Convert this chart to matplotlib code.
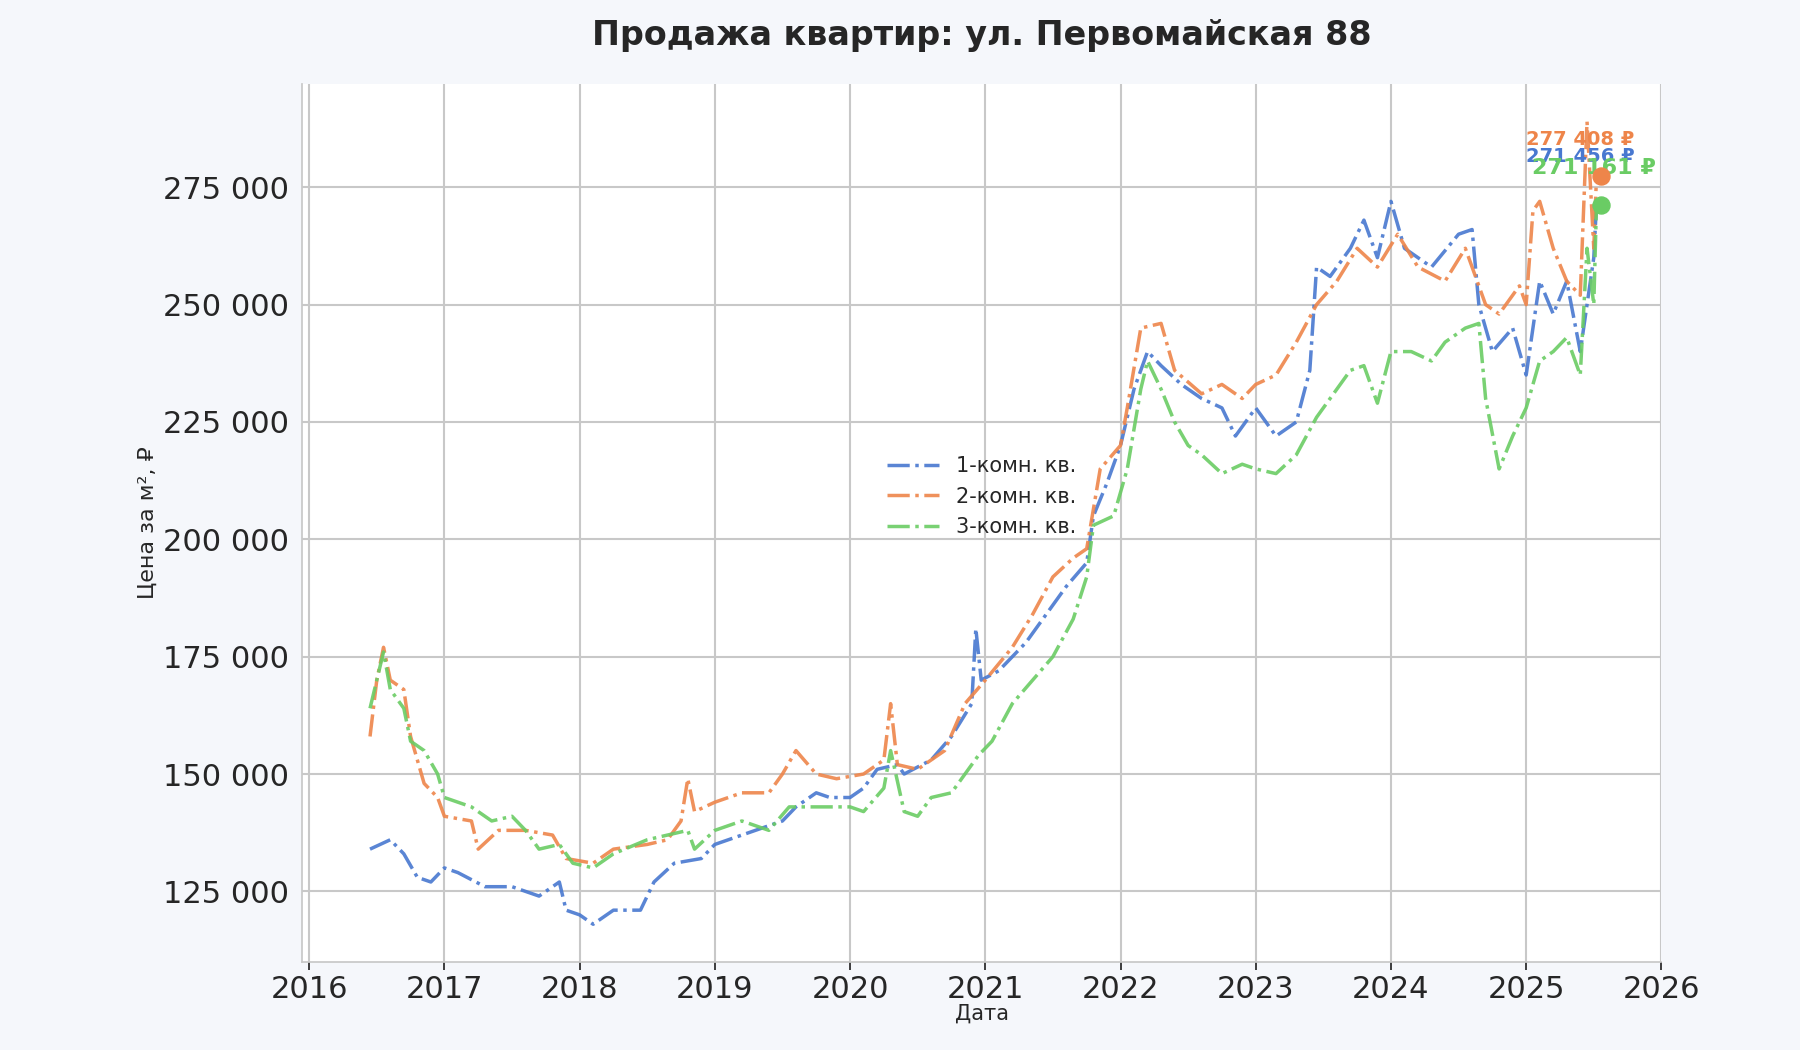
import matplotlib
matplotlib.use("Agg")
import numpy as np
import seaborn as sns
from matplotlib import pyplot as plt
from matplotlib.ticker import FuncFormatter

sns.set_theme(style="whitegrid")
plt.rcParams["font.family"] = ["DejaVu Sans"]

pal = sns.color_palette("muted")
c1, c2, c3 = pal[0], pal[1], pal[2]

# 1-комн. кв.
t1 = [2016.45, 2016.6, 2016.7, 2016.8, 2016.9, 2017.0, 2017.1, 2017.3, 2017.5, 2017.7,
      2017.85, 2017.9, 2018.0, 2018.1, 2018.25, 2018.45, 2018.55, 2018.7, 2018.9, 2019.0,
      2019.3, 2019.5, 2019.6, 2019.75, 2019.85, 2020.0, 2020.1, 2020.2, 2020.35, 2020.4,
      2020.6, 2020.75, 2020.9, 2020.93, 2020.97, 2021.1, 2021.3, 2021.45, 2021.6, 2021.75,
      2021.8, 2021.9, 2022.0, 2022.1, 2022.2, 2022.3, 2022.45, 2022.6, 2022.75, 2022.85,
      2023.0, 2023.15, 2023.3, 2023.4, 2023.45, 2023.55, 2023.7, 2023.8, 2023.9, 2024.0,
      2024.1, 2024.3, 2024.5, 2024.6, 2024.65, 2024.75, 2024.9, 2025.0, 2025.1, 2025.2,
      2025.3, 2025.4, 2025.5, 2025.52]
v1 = [134000, 136000, 133000, 128000, 127000, 130000, 129000, 126000, 126000, 124000,
      127000, 121000, 120000, 118000, 121000, 121000, 127000, 131000, 132000, 135000,
      138000, 140000, 143000, 146000, 145000, 145000, 147000, 151000, 152000, 150000,
      153000, 158000, 165000, 181000, 170000, 172000, 178000, 184000, 190000, 195000,
      205000, 212000, 220000, 232000, 240000, 237000, 233000, 230000, 228000, 222000,
      228000, 222000, 225000, 236000, 258000, 256000, 262000, 268000, 260000, 272000,
      262000, 258000, 265000, 266000, 250000, 240000, 245000, 235000, 255000, 248000,
      255000, 240000, 260000, 271456]

# 2-комн. кв.
t2 = [2016.45, 2016.5, 2016.55, 2016.6, 2016.7, 2016.75, 2016.85, 2016.95, 2017.0, 2017.2,
      2017.25, 2017.4, 2017.6, 2017.8, 2017.9, 2018.1, 2018.25, 2018.5, 2018.65, 2018.75,
      2018.8, 2018.85, 2019.0, 2019.2, 2019.4, 2019.5, 2019.6, 2019.75, 2019.9, 2020.1,
      2020.25, 2020.3, 2020.35, 2020.5, 2020.7, 2020.85, 2021.0, 2021.2, 2021.35, 2021.5,
      2021.65, 2021.75, 2021.85, 2022.0, 2022.05, 2022.15, 2022.3, 2022.4, 2022.6, 2022.75,
      2022.9, 2023.0, 2023.15, 2023.3, 2023.45, 2023.6, 2023.75, 2023.9, 2024.05, 2024.2,
      2024.4, 2024.55, 2024.7, 2024.8, 2024.95, 2025.0, 2025.05, 2025.1, 2025.2, 2025.3,
      2025.4, 2025.45, 2025.5, 2025.52]
v2 = [158000, 170000, 177000, 170000, 168000, 158000, 148000, 145000, 141000, 140000,
      134000, 138000, 138000, 137000, 132000, 131000, 134000, 135000, 136000, 140000,
      149000, 142000, 144000, 146000, 146000, 150000, 155000, 150000, 149000, 150000,
      153000, 165000, 152000, 151000, 155000, 165000, 170000, 177000, 184000, 192000,
      196000, 198000, 215000, 220000, 228000, 245000, 246000, 236000, 231000, 233000,
      230000, 233000, 235000, 242000, 250000, 255000, 262000, 258000, 265000, 258000,
      255000, 262000, 250000, 248000, 254000, 250000, 270000, 272000, 262000, 255000,
      252000, 289000, 262000, 277408]

# 3-комн. кв.
t3 = [2016.45, 2016.5, 2016.55, 2016.6, 2016.7, 2016.75, 2016.85, 2016.95, 2017.0, 2017.2,
      2017.35, 2017.5, 2017.6, 2017.7, 2017.85, 2017.95, 2018.1, 2018.25, 2018.5, 2018.65,
      2018.8, 2018.85, 2019.0, 2019.2, 2019.4, 2019.55, 2019.7, 2019.9, 2020.0, 2020.1,
      2020.25, 2020.3, 2020.4, 2020.5, 2020.6, 2020.75, 2020.85, 2020.95, 2021.05, 2021.2,
      2021.35, 2021.5, 2021.65, 2021.75, 2021.8, 2021.95, 2022.05, 2022.15, 2022.2, 2022.3,
      2022.4, 2022.5, 2022.6, 2022.75, 2022.9, 2023.0, 2023.15, 2023.3, 2023.45, 2023.55,
      2023.7, 2023.8, 2023.9, 2024.0, 2024.15, 2024.3, 2024.4, 2024.55, 2024.65, 2024.7,
      2024.8, 2024.9, 2025.0, 2025.1, 2025.2, 2025.3, 2025.4, 2025.45, 2025.5, 2025.52]
v3 = [164000, 170000, 176000, 168000, 164000, 157000, 155000, 150000, 145000, 143000,
      140000, 141000, 138000, 134000, 135000, 131000, 130000, 133000, 136000, 137000,
      138000, 134000, 138000, 140000, 138000, 143000, 143000, 143000, 143000, 142000,
      147000, 155000, 142000, 141000, 145000, 146000, 150000, 154000, 157000, 165000,
      170000, 175000, 183000, 192000, 203000, 205000, 215000, 232000, 238000, 232000,
      225000, 220000, 218000, 214000, 216000, 215000, 214000, 218000, 226000, 230000,
      236000, 237000, 229000, 240000, 240000, 238000, 242000, 245000, 246000, 230000,
      215000, 222000, 228000, 238000, 240000, 243000, 235000, 262000, 250000, 271161]

labels = ["1-комн. кв.", "2-комн. кв.", "3-комн. кв."]
end_x = 2025.55

fig = plt.figure(figsize=(18, 10.5), dpi=100, facecolor="#f5f7fb")
ax = fig.add_axes([0.168, 0.084, 0.755, 0.836])
ax.set_facecolor("white")

for t, v, c, lab in zip([t1, t2, t3], [v1, v2, v3], [c1, c2, c3], labels):
    ax.plot(t, v, linestyle="-.", color=c, linewidth=2.5, alpha=0.9, label=lab)

# end markers and labels
ax.scatter([end_x], [v2[-1]], color=c2, s=150, zorder=5)
ax.scatter([end_x], [v3[-1]], color=c3, s=150, zorder=5)
ax.text(end_x - 0.15, 284000, "277 408 ₽", color=c2, fontsize=14, fontweight="bold", ha="center")
ax.text(end_x - 0.15, 280300, "271 456 ₽", color=c1, fontsize=14, fontweight="bold", ha="center")
ax.text(end_x - 0.05, 277800, "271 161 ₽", color=c3, fontsize=16, fontweight="bold", ha="center")

ax.set_xlim(2015.95, 2026.0)
ax.set_ylim(110000, 297000)
ax.set_xticks(range(2016, 2027))
ax.set_yticks(range(125000, 275001, 25000))
ax.yaxis.set_major_formatter(FuncFormatter(lambda y, p: f"{int(y):,}".replace(",", " ")))
ax.tick_params(labelsize=22, colors="#262626", bottom=True, length=6)
ax.grid(color="#c8c8c8", linewidth=1.5)
for s in ["top", "right"]:
    ax.spines[s].set_visible(False)
ax.spines["left"].set_color("#c8c8c8")
ax.spines["bottom"].set_color("#c8c8c8")

ax.set_title("Продажа квартир: ул. Первомайская 88", fontsize=24, fontweight="bold",
             color="#262626", pad=28)
ax.set_xlabel("Дата", fontsize=15, labelpad=0)
ax.set_ylabel("Цена за м², ₽", fontsize=16, labelpad=4)

ax.legend(loc="center", bbox_to_anchor=(0.5, 0.53), fontsize=15, frameon=False,
          handlelength=2.5)

fig.savefig("out.png", dpi=100, facecolor=fig.get_facecolor())
